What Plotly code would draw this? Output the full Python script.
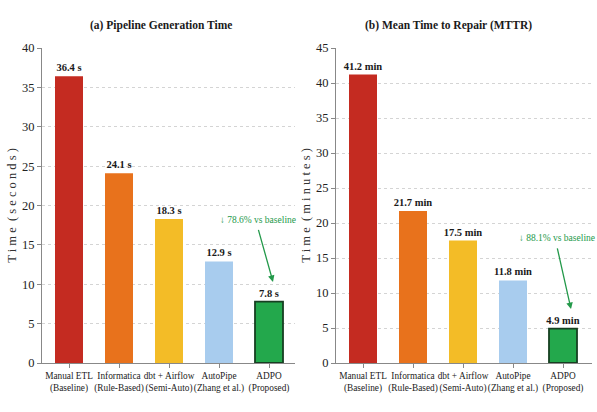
import plotly.graph_objects as go

# Methods compared in both panels
methods = [
    "Manual ETL<br>(Baseline)",
    "Informatica<br>(Rule-Based)",
    "dbt + Airflow<br>(Semi-Auto)",
    "AutoPipe<br>(Zhang et al.)",
    "ADPO<br>(Proposed)",
]
gen_time_s = [36.4, 24.1, 18.3, 12.9, 7.8]
mttr_min = [41.2, 21.7, 17.5, 11.8, 4.9]
gen_labels = ["36.4 s", "24.1 s", "18.3 s", "12.9 s", "7.8 s"]
mttr_labels = ["41.2 min", "21.7 min", "17.5 min", "11.8 min", "4.9 min"]
gen_reduction = "↓ 78.6% vs baseline"
mttr_reduction = "↓ 88.1% vs baseline"

bar_colors = ["#C42B21", "#E8721C", "#F3BC27", "#A8CCEE", "#23A84C"]
edge_colors = ["rgba(0,0,0,0)"] * 4 + ["#173F22"]
edge_widths = [0, 0, 0, 0, 1.8]

FONT = "Liberation Serif"
GREEN = "#23994A"

fig = go.Figure()
idx = list(range(len(methods)))

for vals, labels, xa, ya in [(gen_time_s, gen_labels, "x", "y"),
                             (mttr_min, mttr_labels, "x2", "y2")]:
    fig.add_trace(go.Bar(
        x=idx, y=vals, width=0.56,
        marker=dict(color=bar_colors, line=dict(color=edge_colors, width=edge_widths)),
        text=labels, textposition="outside", cliponaxis=False, constraintext="none",
        textfont=dict(family=FONT, size=10.5, color="#1a1a1a", weight="bold"),
        xaxis=xa, yaxis=ya, showlegend=False,
    ))

y_dom = [1 - 363 / 412, 1 - 48 / 412]
common_x = dict(
    tickmode="array", tickvals=idx, ticktext=methods, tickangle=0,
    tickfont=dict(family=FONT, size=9.3, color="#222"),
    showline=True, linecolor="#888", linewidth=1,
    ticks="outside", ticklen=4, tickcolor="#888",
    showgrid=False, zeroline=False, fixedrange=True, automargin=False,
)
common_y = dict(
    tickfont=dict(family=FONT, size=12.5, color="#222"),
    showline=True, linecolor="#888", linewidth=1,
    ticks="outside", ticklen=4, tickcolor="#888",
    showgrid=True, gridcolor="#d4d4d4", griddash="dot", gridwidth=1,
    zeroline=False, domain=y_dom, automargin=False,
)

fig.update_layout(
    width=597, height=412,
    margin=dict(l=0, r=0, t=0, b=0),
    paper_bgcolor="white", plot_bgcolor="white",
    font=dict(family=FONT),
    xaxis=dict(common_x, domain=[42 / 597, 295 / 597], range=[-0.54, 4.52], anchor="y"),
    yaxis=dict(common_y, range=[0, 40], dtick=5, anchor="x",
               title=dict(text="T i m e  ( s e c o n d s )", standoff=2,
                          font=dict(family=FONT, size=12.5, color="#333"))),
    xaxis2=dict(common_x, domain=[336 / 597, 592 / 597], range=[-0.54, 4.58], anchor="y2"),
    yaxis2=dict(common_y, range=[0, 45], dtick=5, anchor="x2",
                title=dict(text="T i m e  ( m i n u t e s )", standoff=2,
                           font=dict(family=FONT, size=12.5, color="#333"))),
)

annotations = [
    dict(text="<b>(a) Pipeline Generation Time</b>", xref="paper", yref="paper",
         x=161 / 597, y=1 - 26 / 412, xanchor="center", yanchor="middle", showarrow=False,
         font=dict(family=FONT, size=11.5, color="#1a1a1a")),
    dict(text="<b>(b) Mean Time to Repair (MTTR)</b>", xref="paper", yref="paper",
         x=448 / 597, y=1 - 26 / 412, xanchor="center", yanchor="middle", showarrow=False,
         font=dict(family=FONT, size=11.5, color="#1a1a1a")),
    # reduction callouts
    dict(text=gen_reduction, xref="x", yref="y", x=3.77, y=18.2, showarrow=False,
         xanchor="center", font=dict(family=FONT, size=9.5, color=GREEN)),
    dict(text="", xref="x", yref="y", axref="x", ayref="y",
         x=4.08, y=10.3, ax=3.78, ay=17.1,
         showarrow=True, arrowhead=2, arrowsize=1, arrowwidth=1.3, arrowcolor=GREEN),
    dict(text=mttr_reduction, xref="x2", yref="y2", x=3.88, y=17.9, showarrow=False,
         xanchor="center", font=dict(family=FONT, size=9.5, color=GREEN)),
    dict(text="", xref="x2", yref="y2", axref="x2", ayref="y2",
         x=4.16, y=7.7, ax=3.88, ay=16.6,
         showarrow=True, arrowhead=2, arrowsize=1, arrowwidth=1.3, arrowcolor=GREEN),
]
fig.update_layout(annotations=annotations)

fig.write_html("out.html")
